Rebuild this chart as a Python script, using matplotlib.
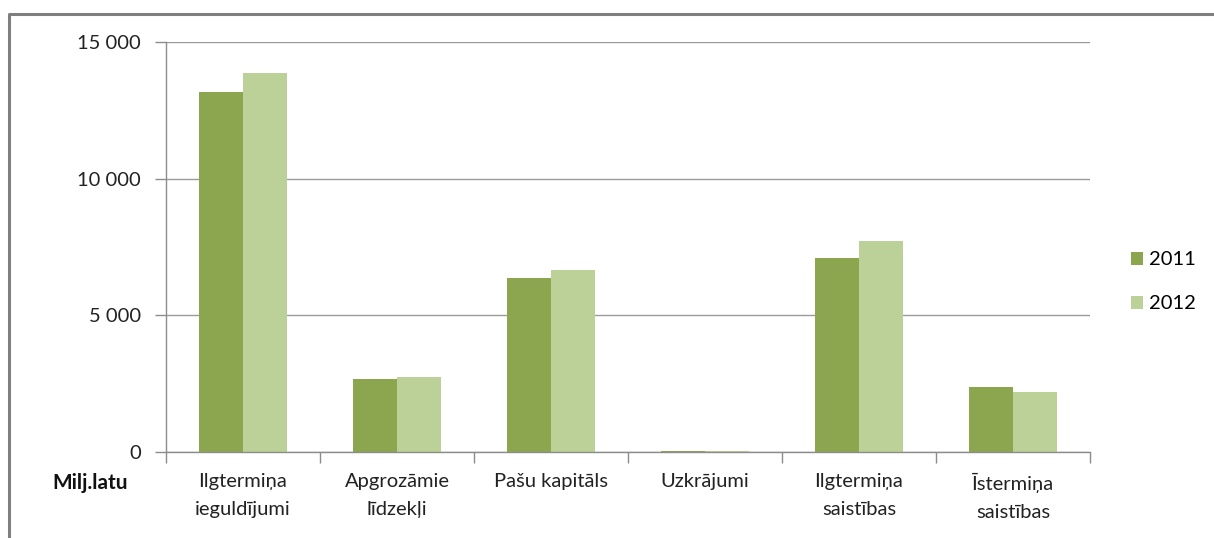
import numpy as np
import matplotlib.pyplot as plt
from matplotlib.lines import Line2D

plt.rcParams['font.family'] = ['Lato', 'DejaVu Sans']

categories = ['Ilgtermiņa\nieguldījumi', 'Apgrozāmie\nlīdzekļi', 'Pašu kapitāls',
              'Uzkrājumi', 'Ilgtermiņa\nsaistības', 'Īstermiņa\nsaistības']
v2011 = [13170, 2670, 6370, 50, 7100, 2380]
v2012 = [13870, 2745, 6660, 40, 7720, 2195]
yticks = [0, 5000, 10000, 15000]
ylabels = ['0', '5 000', '10 000', '15 000']

fig = plt.figure(figsize=(12.14, 5.38), dpi=100)
ax = fig.add_axes([0.1367, 0.1599, 0.7611, 0.762])

x = np.arange(len(categories))
w = 0.286
ax.bar(x - w / 2, v2011, w, color='#8BA64E', label='2011')
ax.bar(x + w / 2, v2012, w, color='#BBD197', label='2012')

ax.set_xlim(-0.5, len(categories) - 0.5)
ax.set_ylim(0, 15000)
ax.set_yticks(yticks)
ax.set_yticklabels(ylabels)
ax.yaxis.grid(True, color='#9A9A9A', linewidth=1)
ax.set_axisbelow(True)

fs = 14.5
ax.set_xticks(x)
ax.set_xticklabels(categories, linespacing=1.8)
ax.set_xticks(np.arange(-0.5, len(categories)), minor=True)
ax.tick_params(axis='x', which='major', length=0, pad=15, labelsize=fs, colors='#222222')
ax.tick_params(axis='x', which='minor', length=8, color='#8C8C8C', width=1)
ax.tick_params(axis='y', length=8, color='#8C8C8C', width=1, labelsize=fs, pad=10,
               colors='#222222')

for s in ['top', 'right']:
    ax.spines[s].set_visible(False)
for s in ['left', 'bottom']:
    ax.spines[s].set_color('#8C8C8C')
    ax.spines[s].set_linewidth(1)

leg = ax.legend(loc='center left', bbox_to_anchor=(1.025, 0.415), frameon=False,
                fontsize=fs, handlelength=0.6, handleheight=0.6, handletextpad=0.3,
                labelspacing=1.35)

fig.text(0.0428, 0.092, 'Milj.latu', fontsize=15, fontweight='bold', color='#111111')

# outer frame (top and left)
fig.add_artist(Line2D([0.0075, 0.0075, 1.0], [0.0, 0.974, 0.974], transform=fig.transFigure,
                      color='#7F7F7F', linewidth=2.2))

fig.savefig('out.png', dpi=100)
